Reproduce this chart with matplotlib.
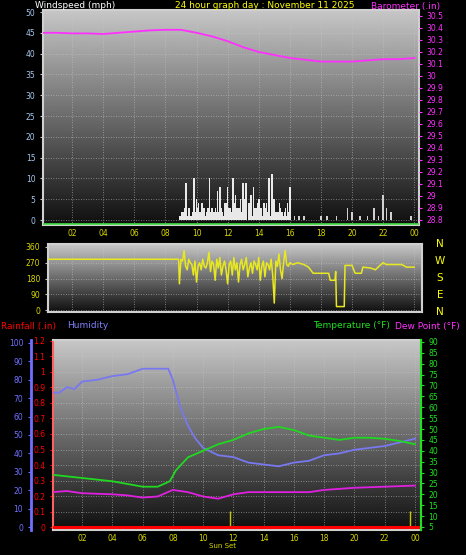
import numpy as np
import matplotlib
matplotlib.use("Agg")
import matplotlib.pyplot as plt

# ---------------- data ----------------
hour_ticks = [2, 4, 6, 8, 10, 12, 14, 16, 18, 20, 22, 24]
hour_labels = ["02", "04", "06", "08", "10", "12", "14", "16", "18", "20", "22", "00"]

wind_t = list(np.round(np.arange(9.0, 16.1, 1/6), 3))
wind_v = [1, 2, 9, 3, 1, 10, 5, 2, 4, 3, 1, 10, 3, 2, 7, 8, 2, 4, 8, 3, 10, 6, 3, 5, 9, 9, 4,
          6, 8, 3, 5, 3, 4, 4, 10, 11, 3, 2, 4, 2, 1, 4, 8]
wind_avg_t = list(np.round(np.arange(8.9, 16.0, 1/12), 3))
wind_avg_v = [1, 1, 2, 1, 3, 2, 1, 2, 3, 1, 2, 3, 2, 1, 3, 4, 2, 1, 2, 3, 1, 2, 3, 4, 2, 3, 2, 1, 3, 2,
              2, 4, 3, 2, 1, 3, 4, 2, 3, 3, 2, 3, 4, 5, 3, 2, 3, 4, 2, 5, 5, 3, 2, 3, 4, 3, 1, 2,
              3, 2, 4, 3, 2, 3, 1, 2, 3, 4, 2, 3, 1, 2, 3, 5, 2, 1, 2, 1, 3, 2, 1, 2, 3, 1, 2, 1]
wind_t2 = [16.3, 16.6, 16.9, 18.0, 18.4, 19.0, 19.7, 20.0, 20.5, 21.0, 21.4, 21.7, 22.0, 22.2, 22.5, 23.8]
wind_v2 = [1, 1, 1, 1, 1, 1, 3, 2, 1, 1, 3, 1, 6, 3, 2, 1]

baro_t = list(range(25))
baro_v = [30.36, 30.36, 30.355, 30.355, 30.35, 30.36, 30.37, 30.38, 30.385, 30.385, 30.36, 30.33,
          30.29, 30.24, 30.2, 30.175, 30.15, 30.135, 30.12, 30.12, 30.12, 30.13, 30.14, 30.14, 30.15]

dir_noisy = [150, 290, 280, 340, 250, 230, 290, 270, 260, 200, 280, 160, 250, 270, 230, 290, 250, 240,
             270, 330, 220, 280, 260, 170, 290, 240, 300, 200, 250, 280, 230, 150, 260, 280, 200, 300,
             230, 270, 160, 260, 290, 230, 260, 300, 190, 240, 270, 210, 280, 260, 230, 300, 170, 250,
             280, 190, 270, 260, 230, 290, 200, 40, 280, 250, 320, 230, 180, 270, 340, 260, 250, 270]
dir_start_t = [0, 8.85]
dir_start_v = [290, 290]
dir_end_t = [16.2, 16.5, 16.9, 17.2, 17.5, 18.5, 18.6, 18.9, 18.95, 19.0, 19.5, 19.55, 20.0, 20.2,
             20.6, 20.7, 21.2, 21.5, 21.8, 22.0, 22.2, 23.2, 23.5, 24.0]
dir_end_v = [260, 270, 260, 245, 210, 210, 170, 170, 220, 20, 20, 255, 255, 210, 210, 245, 240, 230,
             255, 270, 260, 260, 245, 245]

hum_t = [0, 0.5, 1, 1.5, 2, 3, 4, 5, 6, 7, 7.7, 8, 8.5, 9, 9.5, 10, 11, 12, 13, 14, 15, 16, 17, 18,
         19, 20, 21, 22, 23, 24]
hum_v = [73, 73, 76, 75, 79, 80, 82, 83, 86, 86, 86, 80, 65, 55, 48, 43, 39, 38, 35, 34, 33, 35, 36,
         39, 40, 42, 43, 44, 46, 48]
temp_t = [0, 2, 4, 6, 7, 7.8, 8.2, 9, 10, 11, 12, 13, 14, 15, 16, 17, 18, 19, 20, 21, 22, 23, 24]
temp_v = [29, 27.5, 26, 23.5, 23.5, 26, 31, 37, 40, 43, 45, 48, 50, 51, 49.5, 47, 46, 45, 46, 46,
          45.5, 44.5, 43]
dew_t = [0, 1, 2, 4, 5, 6, 7, 8, 9, 10, 11, 12, 13, 14, 15, 16, 17, 18, 20, 22, 24]
dew_v = [21, 21.5, 20.5, 20, 19.5, 18.5, 19, 22, 21, 19, 18, 20, 21, 21, 21, 21, 21, 22, 23, 23.5, 24]
rain_t = [0, 24.3]
rain_v = [0, 0]
sun_t = [11.8, 23.7]

# ---------------- figure ----------------
W, H = 466, 555
fig = plt.figure(figsize=(W/100, H/100), dpi=100, facecolor="black")
FS = 5.5
XCOL = "#d8d800"

def ax_px(x0, x1, y0, y1):
    return fig.add_axes([x0/W, 1 - y1/H, (x1-x0)/W, (y1-y0)/H])

grad = np.linspace(0, 1, 256).reshape(-1, 1)
def background(ax):
    ax.imshow(grad, extent=[0, 1, 0, 1], transform=ax.transAxes, cmap="gray", vmin=-0.08, vmax=1.3,
              aspect="auto", origin="lower", zorder=0)
    ax.set_facecolor("black")

def style(ax, xlim):
    ax.set_xlim(*xlim)
    ax.set_xticks(hour_ticks)
    ax.set_xticklabels(hour_labels, color=XCOL, fontsize=FS)
    ax.tick_params(axis="x", length=0, pad=3)
    ax.grid(True, color="#c8c8c8", ls=(0, (1, 2)), lw=0.6, alpha=0.7)
    for s in ax.spines.values():
        s.set_color("#d0d0d0")
        s.set_linewidth(1.5)

# Panel 1
ax1 = ax_px(43, 419, 10, 225)
background(ax1)
style(ax1, (0.13, 24.3))
ax1.set_ylim(-1.2, 50.5)
ax1.set_yticks(range(0, 51, 5))
ax1.tick_params(axis="y", colors="#c8c8c8", labelcolor="#a8c8f0", labelsize=FS, length=2)
ax1.bar(wind_t, wind_v, width=0.1, color="white", alpha=0.9, zorder=3)
ax1.bar(wind_avg_t, wind_avg_v, width=0.08, color="#e8e8e8", zorder=3)
ax1.bar(wind_t2, wind_v2, width=0.1, color="#d0d0d0", zorder=3)
ax1.axhline(-0.9, color="#40e040", lw=1.2, zorder=4)
ax1b = ax1.twinx()
ax1b.set_ylim(28.758, 30.55)
bt = np.round(np.arange(28.8, 30.51, 0.1), 1)
ax1b.set_yticks(bt)
ax1b.set_yticklabels([f"{v:g}" for v in bt])
ax1b.tick_params(axis="y", colors="#ff30ff", labelsize=FS, length=2)
ax1b.plot(baro_t, baro_v, color="#ff30ff", lw=1.3)
for s in ax1b.spines.values():
    s.set_visible(False)

fig.text(35/W, 1 - 6/H, "Windspeed (mph)", color="white", fontsize=6.5, va="center")
fig.text(265/W, 1 - 6/H, "24 hour graph day : November 11 2025", color="yellow", fontsize=6.5,
         va="center", ha="center")
fig.text(440/W, 1 - 6/H, "Barometer (.in)", color="#ff30ff", fontsize=6.5, va="center", ha="right")

# Panel 2
ax2 = ax_px(48, 422, 244, 312)
background(ax2)
style(ax2, (0.45, 24.5))
ax2.set_xticklabels([])
ax2.set_ylim(-11, 377)
ax2.set_yticks([0, 90, 180, 270, 360])
ax2.tick_params(axis="y", colors="#c8c8c8", labelcolor=XCOL, labelsize=FS, length=2)
dir_t = dir_start_t + list(np.round(8.9 + 0.1*np.arange(len(dir_noisy)), 2)) + dir_end_t
dir_v = dir_start_v + dir_noisy + dir_end_v
ax2.plot(dir_t, dir_v, color="#e8e820", lw=1.1, zorder=3)
for lab, y in zip("NWSEN", [244, 261, 278, 295, 312]):
    fig.text(440/W, 1 - y/H, lab, color="yellow", fontsize=7.5, ha="center", va="center")

# Legend row
fig.text(1/W, 1 - 326/H, "Rainfall (.in)", color="red", fontsize=6.5, va="center")
fig.text(67/W, 1 - 326/H, "Humidity", color="#8080ff", fontsize=6.5, va="center")
fig.text(313/W, 1 - 326/H, "Temperature (°F)", color="#20e020", fontsize=6.5, va="center")
fig.text(395/W, 1 - 326/H, "Dew Point (°F)", color="#ff30ff", fontsize=6.5, va="center")

# Panel 3
ax3 = ax_px(53, 421, 340, 530)
background(ax3)
style(ax3, (0.08, 24.4))
ax3.set_ylim(-0.019, 1.206)
rt = np.round(np.arange(0, 1.21, 0.1), 1)
ax3.set_yticks(rt)
ax3.set_yticklabels([f"{v:g}" for v in rt])
ax3.tick_params(axis="y", colors="red", labelsize=FS, length=2)
ax3.spines["left"].set_color("#ff6060")
ax3.plot(rain_t, rain_v, color="red", lw=2.2, zorder=6)
ax3.vlines(sun_t, 0, 0.105, color="#c8c800", lw=1, zorder=5)
ax3.text(sun_t[0] - 0.55, -0.125, "Sun Set", color=XCOL, fontsize=5, ha="center", va="center")

axh = ax3.twinx()
axh.spines["right"].set_visible(False)
axh.spines["left"].set_visible(True)
axh.spines["left"].set_position(("axes", -0.06))
axh.spines["left"].set_color("#7070ff")
axh.spines["left"].set_linewidth(2)
axh.yaxis.set_ticks_position("left")
axh.yaxis.set_label_position("left")
axh.set_ylim(-1.6, 101.6)
axh.set_yticks(range(0, 101, 10))
axh.tick_params(axis="y", colors="#7070ff", labelsize=FS, length=2)
axh.plot(hum_t, hum_v, color="#7878f0", lw=1.3)
for k in ("top", "bottom"):
    axh.spines[k].set_visible(False)

axt = ax3.twinx()
axt.set_ylim(3.6, 90.9)
axt.set_yticks(range(5, 91, 5))
axt.tick_params(axis="y", colors="#20e020", labelsize=FS, length=2)
axt.spines["right"].set_color("#20e020")
axt.spines["right"].set_linewidth(1.5)
for k in ("top", "bottom", "left"):
    axt.spines[k].set_visible(False)
axt.plot(temp_t, temp_v, color="#20d820", lw=1.3)
axt.plot(dew_t, dew_v, color="#e020e0", lw=1.3)

fig.savefig("out.png", dpi=100, facecolor="black")
